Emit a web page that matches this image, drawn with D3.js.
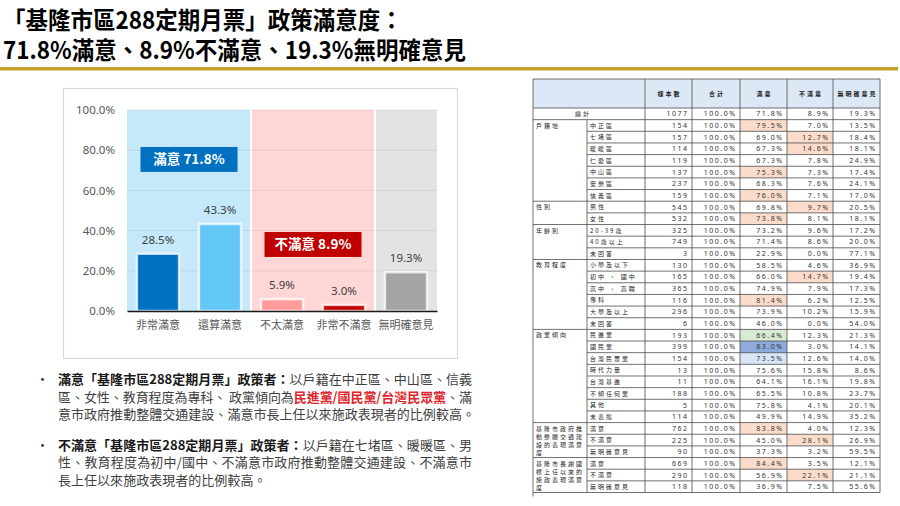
<!DOCTYPE html>
<html><head><meta charset="utf-8">
<script src="https://cdn.jsdelivr.net/npm/d3@7"></script>
<style>
body{margin:0;background:#fff;}
svg{display:block;font-family:"Noto Sans CJK TC","Noto Sans",sans-serif;}
</style>
</head><body><svg id="c" width="900" height="506"></svg>
<script>
// ---------------- data ----------------
const titleLines = ["「基隆市區288定期月票」政策滿意度：", "71.8%滿意、8.9%不滿意、19.3%無明確意見"];
const categories = ["非常滿意", "還算滿意", "不太滿意", "非常不滿意", "無明確意見"];
const values = [28.5, 43.3, 5.9, 3.0, 19.3];
const barColors = ["#0070C0", "#63C8F8", "#FF9B9B", "#C00000", "#A5A5A5"];
const groupNames = ["滿意", "不滿意", "無明確意見"];
const groupCats = [["非常滿意", "還算滿意"], ["不太滿意", "非常不滿意"], ["無明確意見"]];
const groupTotals = [71.8, 8.9, 19.3];
const groupBg = ["#C5E8FA", "#FFD6D6", "#E3E3E3"];
const yTicks = [0, 20, 40, 60, 80, 100];

const bullets = [
  [[{t: "滿意「基隆市區288定期月票」政策者：", b: 1}, {t: "以戶籍在中正區、中山區、信義"}],
   [{t: "區、女性、教育程度為專科、 政黨傾向為"}, {t: "民進黨/國民黨/台灣民眾黨", r: 1}, {t: "、滿"}],
   [{t: "意市政府推動整體交通建設、滿意市長上任以來施政表現者的比例較高。"}]],
  [[{t: "不滿意「基隆市區288定期月票」政策者：", b: 1}, {t: "以戶籍在七堵區、暖暖區、男"}],
   [{t: "性、教育程度為初中/國中、不滿意市政府推動整體交通建設、不滿意市"}],
   [{t: "長上任以來施政表現者的比例較高。"}]]
];

const tableHeaders = ["樣本數", "合計", "滿意", "不滿意", "無明確意見"];
const tableGroups = ["", "戶籍地", "性別", "年齡別", "教育程度", "政黨傾向",
  "基隆市政府推動整體交通建設的表現滿意度", "基隆市長謝國樑上任以來的施政表現滿意度"];
const groupSizes = [1, 7, 2, 3, 6, 8, 3, 3];
const rowLabels = ["總計",
  "中正區", "七堵區", "暖暖區", "仁愛區", "中山區", "安樂區", "信義區",
  "男性", "女性",
  "20-39歲", "40歲以上", "未回答",
  "小學及以下", "初中、國中", "高中、高職", "專科", "大學及以上", "未回答",
  "民進黨", "國民黨", "台灣民眾黨", "時代力量", "台灣基進", "不傾任何黨", "其他", "未表態",
  "滿意", "不滿意", "無明確意見",
  "滿意", "不滿意", "無明確意見"];
const rowN = [1077, 154, 157, 114, 119, 137, 237, 159, 545, 532, 325, 749, 3,
  130, 165, 365, 116, 296, 6, 193, 399, 154, 13, 11, 188, 5, 114, 762, 225, 90, 669, 290, 118];
const rowTotal = rowN.map(() => 100.0);
const rowSat = [71.8, 79.5, 69.0, 67.3, 67.3, 75.3, 68.3, 76.0, 69.8, 73.8, 73.2, 71.4, 22.9,
  58.5, 66.0, 74.9, 81.4, 73.9, 46.0, 66.4, 83.0, 73.5, 75.6, 64.1, 65.5, 75.8, 49.9,
  83.8, 45.0, 37.3, 84.4, 56.9, 36.9];
const rowUnsat = [8.9, 7.0, 12.7, 14.6, 7.8, 7.3, 7.6, 7.1, 9.7, 8.1, 9.6, 8.6, 0.0,
  4.6, 14.7, 7.9, 6.2, 10.2, 0.0, 12.3, 3.0, 12.6, 15.8, 16.1, 10.8, 4.1, 14.9,
  4.0, 28.1, 3.2, 3.5, 22.1, 7.5];
const rowNone = [19.3, 13.5, 18.4, 18.1, 24.9, 17.4, 24.1, 17.0, 20.5, 18.1, 17.2, 20.0, 77.1,
  36.9, 19.4, 17.3, 12.5, 15.9, 54.0, 21.3, 14.1, 14.0, 8.6, 19.8, 23.7, 20.1, 35.2,
  12.3, 26.9, 59.5, 12.1, 21.1, 55.6];
// highlighted cells: [row index, column (3=滿意,4=不滿意), colour key]
const highlights = [[1, 3, "s"], [5, 3, "s"], [7, 3, "s"], [9, 3, "s"], [16, 3, "s"], [27, 3, "s"], [30, 3, "s"],
  [2, 4, "s"], [3, 4, "s"], [8, 4, "s"], [14, 4, "s"], [28, 4, "s"], [31, 4, "s"],
  [19, 3, "g"], [20, 3, "b"], [21, 3, "lb"]];
const hlColors = {s: "#FBDCCB", g: "#D9EBD3", b: "#8FAADC", lb: "#D7E5F4"};

// ---------------- drawing ----------------
const svg = d3.select("#c");

// title (slightly condensed horizontally to match the original face)
const tg = svg.append("g").attr("transform", "translate(3,0) scale(0.957,1)");
tg.selectAll("text.title").data(titleLines).join("text")
  .attr("class", "title").attr("x", 0).attr("y", (d, i) => 29 + i * 30.5)
  .attr("font-size", 23.5).attr("font-weight", 700).attr("fill", "#000").text(d => d);
svg.append("rect").attr("x", 0).attr("y", 67).attr("width", 898).attr("height", 3.5).attr("fill", "#C7A02A");

// chart frame
svg.append("rect").attr("x", 63.5).attr("y", 88.5).attr("width", 394).attr("height", 270)
  .attr("fill", "#fff").attr("stroke", "#D9D9D9").attr("stroke-width", 1.2);

const left = 127, right = 437;
const y = d3.scaleLinear().domain([0, 100]).range([311, 110]);
const x = d3.scaleBand().domain(categories).range([left, right]).paddingInner(0.32).paddingOuter(0.16);
const xb = d3.scaleBand().domain(categories).range([left, right]).padding(0);

// background group bands
const g = svg.append("g");
g.selectAll("rect.bg").data(groupCats).join("rect")
  .attr("x", (d, i) => xb(d[0]) + (i > 0 ? 1 : 0))
  .attr("width", (d, i) => xb(d[d.length - 1]) + xb.bandwidth() - xb(d[0]) - (i > 0 ? 1 : 0) - (i < groupCats.length - 1 ? 1 : 0))
  .attr("y", y(100)).attr("height", y(0) - y(100))
  .attr("fill", (d, i) => groupBg[i]);

// gridlines
g.selectAll("line.grid").data(yTicks.filter(t => t > 0)).join("line")
  .attr("x1", left).attr("x2", right).attr("y1", d => y(d)).attr("y2", d => y(d))
  .attr("stroke", "#000").attr("stroke-opacity", 0.07).attr("stroke-width", 1);

// y axis
const yAxis = d3.axisLeft(y).tickValues(yTicks).tickFormat(d => d.toFixed(1) + "%").tickSize(0).tickPadding(12);
const ya = svg.append("g").attr("transform", `translate(${left},0)`).call(yAxis);
ya.select(".domain").remove();
ya.selectAll("text").attr("font-family", "'Noto Sans', sans-serif").attr("font-size", 11.5).attr("fill", "#595959");

// bars
g.selectAll("rect.bar").data(values).join("rect")
  .attr("x", (d, i) => x(categories[i])).attr("width", x.bandwidth())
  .attr("y", d => y(d)).attr("height", d => y(0) - y(d))
  .attr("fill", (d, i) => barColors[i])
  .attr("stroke", "#fff").attr("stroke-opacity", 0.75).attr("stroke-width", 2.5);

// value labels
g.selectAll("text.val").data(values).join("text")
  .attr("x", (d, i) => x(categories[i]) + x.bandwidth() / 2).attr("y", d => y(d) - 10)
  .attr("text-anchor", "middle").attr("font-family", "'Noto Sans', sans-serif")
  .attr("font-size", 11.5).attr("fill", "#404040").text(d => d.toFixed(1) + "%");

// x axis
const xAxis = d3.axisBottom(xb).tickSize(0).tickPadding(10);
const xa = svg.append("g").attr("transform", `translate(0,${y(0)})`).call(xAxis);
xa.select(".domain").attr("stroke", "#1a1a1a").attr("stroke-width", 1.5);
xa.selectAll("text").attr("font-size", 11).attr("fill", "#595959").attr("font-family", "'Noto Sans CJK TC', sans-serif");

// group summary labels (first two groups)
const boxPos = [[81.6, 69.2], [39.3, 26.9]];
const boxFill = ["#0070C0", "#C00000"];
[0, 1].forEach(i => {
  const cats = groupCats[i];
  const cx = (xb(cats[0]) + xb(cats[cats.length - 1]) + xb.bandwidth()) / 2;
  const y0 = y(boxPos[i][0]), y1 = y(boxPos[i][1]);
  svg.append("rect").attr("x", cx - 48.5).attr("width", 97).attr("y", y0).attr("height", y1 - y0).attr("fill", boxFill[i]);
  svg.append("text").attr("x", cx).attr("y", (y0 + y1) / 2 + 5).attr("text-anchor", "middle")
    .attr("font-size", 13.5).attr("font-weight", 700).attr("fill", "#fff")
    .text(groupNames[i] + " " + groupTotals[i].toFixed(1) + "%");
});

// bullets
const bulletTop = [384, 449.5];
const lineGap = 17.5;
const textLeft = 58, textRight = 472;
bullets.forEach((lines, bi) => {
  svg.append("text").attr("x", 36).attr("y", bulletTop[bi]).attr("font-size", 13).attr("fill", "#333").text("•");
  let ls0 = 0;
  lines.forEach((segs, li) => {
    const t = svg.append("text").attr("x", textLeft).attr("y", bulletTop[bi] + li * lineGap).attr("font-size", 13);
    segs.forEach(s => {
      t.append("tspan").text(s.t)
        .attr("font-weight", s.b || s.r ? 700 : 400)
        .attr("fill", s.r ? "#E0262B" : (s.b ? "#1a1a1a" : "#404040"));
    });
    const n = segs.map(s => s.t).join("").length;
    if (li < lines.length - 1) {
      const w = t.node().getComputedTextLength();
      const ls = (textRight - textLeft - w) / (n - 1);
      t.attr("letter-spacing", ls);
      if (li === 0) ls0 = ls;
    } else {
      t.attr("letter-spacing", ls0);
    }
  });
});

// ---------------- table ----------------
const colX = [533, 587, 645, 692, 740, 787, 833, 880];
const headTop = 79, headBot = 108;
const nRows = rowLabels.length;
const ry = d3.scaleBand().domain(d3.range(nRows)).range([headBot, 492.5]);
const rh = ry.bandwidth();
const tb = svg.append("g");
tb.append("rect").attr("x", colX[0]).attr("y", headTop).attr("width", colX[7] - colX[0]).attr("height", headBot - headTop)
  .attr("fill", "#DCE8F5");
// highlight cells
tb.selectAll("rect.hl").data(highlights).join("rect")
  .attr("x", d => colX[d[1] + 1]).attr("width", d => colX[d[1] + 2] - colX[d[1] + 1])
  .attr("y", d => ry(d[0])).attr("height", rh).attr("fill", d => hlColors[d[2]]);

// group row starts
const groupStart = [];
let acc = 0;
groupSizes.forEach(s => { groupStart.push(acc); acc += s; });

const lineCol = "#4d4d4d", lw = 0.8;
const hl = (x1, x2, yy) => tb.append("line").attr("x1", x1).attr("x2", x2).attr("y1", yy).attr("y2", yy).attr("stroke", lineCol).attr("stroke-width", lw);
const vl = (xx, y1, y2) => tb.append("line").attr("x1", xx).attr("x2", xx).attr("y1", y1).attr("y2", y2).attr("stroke", lineCol).attr("stroke-width", lw);
hl(colX[0], colX[7], headTop);
hl(colX[0], colX[7], headBot);
for (let r = 1; r <= nRows; r++) {
  const yy = ry(r - 1) + rh;
  const isGroup = groupStart.includes(r) || r === nRows;
  hl(isGroup ? colX[0] : colX[1], colX[7], yy);
}
vl(colX[0], headTop, ry(nRows - 1) + rh + 4);
vl(colX[1], ry(1), ry(nRows - 1) + rh);
for (let c = 2; c < colX.length; c++) vl(colX[c], headTop, ry(nRows - 1) + rh);

// header texts
tb.selectAll("text.hd").data(tableHeaders).join("text")
  .attr("x", (d, i) => (colX[i + 2] + colX[i + 3]) / 2 + 1).attr("y", (headTop + headBot) / 2 + 2.5)
  .attr("text-anchor", "middle").attr("font-size", 6).attr("letter-spacing", 2).attr("font-weight", 700)
  .attr("fill", "#222").text(d => d);

// group labels
const cjkSize = 6, cjkLs = 2;
tableGroups.forEach((name, gi) => {
  if (gi === 0) return;
  const chunks = name.match(/.{1,6}/g);
  const t = tb.append("text").attr("font-size", cjkSize).attr("letter-spacing", cjkLs).attr("fill", "#222");
  chunks.forEach((c, k) => {
    t.append("tspan").attr("x", colX[0] + 3).attr("y", ry(groupStart[gi]) + rh / 2 + 2.2 + k * 8.2).text(c);
  });
});

// row labels
tb.selectAll("text.rl").data(rowLabels).join("text")
  .attr("x", (d, i) => i === 0 ? 583 : colX[1] + 3)
  .attr("text-anchor", (d, i) => i === 0 ? "middle" : "start")
  .attr("y", (d, i) => ry(i) + rh / 2 + 2.2)
  .attr("font-size", cjkSize).attr("letter-spacing", cjkLs).attr("fill", "#222")
  .text(d => d.replace("、", " 、 "));

// numbers
const numCols = [rowN, rowTotal, rowSat, rowUnsat, rowNone];
numCols.forEach((arr, ci) => {
  tb.selectAll("text.num" + ci).data(arr).join("text")
    .attr("x", colX[ci + 3] - 3.5).attr("y", (d, i) => ry(i) + rh / 2 + 2.5)
    .attr("text-anchor", "end").attr("font-family", "'Noto Sans', sans-serif")
    .attr("font-size", 7).attr("letter-spacing", 1.5).attr("fill", "#333")
    .text(d => ci === 0 ? d : d.toFixed(1) + "%");
});
</script>
</body></html>
